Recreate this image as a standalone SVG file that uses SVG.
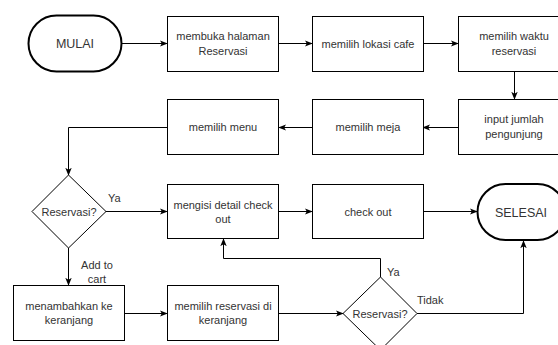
<svg xmlns="http://www.w3.org/2000/svg" width="558" height="345" viewBox="0 0 558 345">
  <style>
    .box { fill: #ffffff; stroke: #000000; stroke-width: 1; }
    .term { fill: #ffffff; stroke: #000000; stroke-width: 2; }
    .dec { fill: #ffffff; stroke: #000000; stroke-width: 1; }
    .edge { fill: none; stroke: #000000; stroke-width: 1; marker-end: url(#arrow); }
    text { font-family: "Liberation Sans", Arial, sans-serif; font-size: 11px; fill: #333333; }
    .c { text-anchor: middle; }
    .big { font-size: 12.5px; }
  </style>
  <defs>
    <marker id="arrow" viewBox="0 0 10 10" refX="9" refY="5" markerWidth="8" markerHeight="8" markerUnits="userSpaceOnUse" orient="auto">
      <path d="M0,1 L10,5 L0,9 L2.5,5 Z" fill="#000000"/>
    </marker>
  </defs>
  <rect width="558" height="345" fill="#ffffff"/>

  <!-- connectors -->
  <g id="connectors">
    <path class="edge" d="M122,43.5 H167"/>
    <path class="edge" d="M279,43.5 H312"/>
    <path class="edge" d="M423,43.5 H458"/>
    <path class="edge" d="M514.5,71 V99"/>
    <path class="edge" d="M458,127.5 H423"/>
    <path class="edge" d="M312,127.5 H279"/>
    <path class="edge" d="M167,127.5 H68.5 V175"/>
    <path class="edge" d="M106,211.5 H167"/>
    <path class="edge" d="M68.5,248 V285"/>
    <path class="edge" d="M125,313.5 H167"/>
    <path class="edge" d="M279,313.5 H343"/>
    <path class="edge" d="M380.5,277 V258.5 H223.5 V239"/>
    <path class="edge" d="M417,313.5 H523.5 V241"/>
    <path class="edge" d="M279,211.5 H312"/>
    <path class="edge" d="M423,211.5 H477"/>
    <text x="108" y="202">Ya</text>
    <text class="c" x="97" y="269">Add to</text>
    <text class="c" x="97" y="283">cart</text>
    <text x="387" y="276">Ya</text>
    <text x="417" y="304">Tidak</text>
  </g>

  <g id="mulai">
    <rect class="term" x="28.5" y="15.5" width="93" height="56" rx="28" ry="28"/>
    <text class="c big" x="75" y="48">MULAI</text>
  </g>
  <g id="buka-halaman">
    <rect class="box" x="167.5" y="16.5" width="111" height="55"/>
    <text class="c" x="223" y="39.5">membuka halaman</text>
    <text class="c" x="223" y="54.5">Reservasi</text>
  </g>
  <g id="lokasi-cafe">
    <rect class="box" x="312.5" y="16.5" width="111" height="55"/>
    <text class="c" x="368" y="47.5">memilih lokasi cafe</text>
  </g>
  <g id="waktu-reservasi">
    <rect class="box" x="458.5" y="16.5" width="112" height="55"/>
    <text class="c" x="514" y="39.5">memilih waktu</text>
    <text class="c" x="514" y="54.5">reservasi</text>
  </g>
  <g id="jumlah-pengunjung">
    <rect class="box" x="458.5" y="99.5" width="112" height="55"/>
    <text class="c" x="514" y="123">input jumlah</text>
    <text class="c" x="514" y="138">pengunjung</text>
  </g>
  <g id="pilih-meja">
    <rect class="box" x="312.5" y="99.5" width="111" height="55"/>
    <text class="c" x="368" y="131">memilih meja</text>
  </g>
  <g id="pilih-menu">
    <rect class="box" x="167.5" y="99.5" width="111" height="55"/>
    <text class="c" x="223" y="131">memilih menu</text>
  </g>
  <g id="cek-reservasi-1">
    <polygon class="dec" points="68.5,175 106,211.5 68.5,248 32,211.5"/>
    <text class="c" x="69" y="215.5">Reservasi?</text>
  </g>
  <g id="detail-checkout">
    <rect class="box" x="167.5" y="184.5" width="111" height="54"/>
    <text class="c" x="223" y="208.5">mengisi detail check</text>
    <text class="c" x="223" y="222.5">out</text>
  </g>
  <g id="checkout">
    <rect class="box" x="312.5" y="184.5" width="111" height="54"/>
    <text class="c" x="368" y="215.5">check out</text>
  </g>
  <g id="selesai">
    <rect class="term" x="477.5" y="184" width="88" height="56" rx="28" ry="28"/>
    <text class="c big" x="521" y="216.5">SELESAI</text>
  </g>
  <g id="tambah-keranjang">
    <rect class="box" x="13.5" y="285.5" width="111" height="55"/>
    <text class="c" x="69" y="310">menambahkan ke</text>
    <text class="c" x="69" y="324">keranjang</text>
  </g>
  <g id="reservasi-keranjang">
    <rect class="box" x="167.5" y="285.5" width="111" height="55"/>
    <text class="c" x="223" y="310">memilih reservasi di</text>
    <text class="c" x="223" y="324">keranjang</text>
  </g>
  <g id="cek-reservasi-2">
    <polygon class="dec" points="380.5,277 417,313.5 380.5,350 343,313.5"/>
    <text class="c" x="380" y="317.5">Reservasi?</text>
  </g>
</svg>
